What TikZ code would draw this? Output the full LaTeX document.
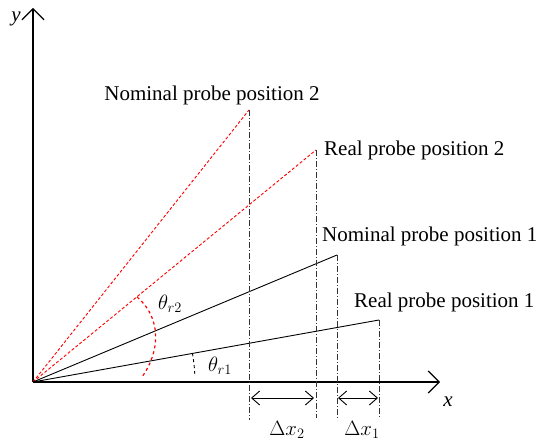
\documentclass[tikz,border=0pt]{standalone}
\usepackage{fontspec}
\setmainfont{Liberation Serif}
\usetikzlibrary{arrows.meta, positioning, calc}

\begin{document}
\begin{tikzpicture}[x=1pt, y=-1pt,
    axis/.style={line width=1.2pt, -{Straight Barb[length=11pt, width=22pt]}},
    nominal/.style={draw=red, densely dashed, line width=0.9pt},
    probe/.style={draw=black, line width=0.9pt},
    guide/.style={draw=black!80, line width=0.9pt, dash pattern=on 6pt off 2pt on 1pt off 2pt},
    gap/.style={line width=0.9pt, {Straight Barb[length=8pt, width=14pt]}-{Straight Barb[length=8pt, width=14pt]}},
    lbl/.style={inner sep=0pt, anchor=west},
    font=\fontsize{21}{25}\selectfont
]
\useasboundingbox (0,0) rectangle (539,446);

% origin and axes
\coordinate (O) at (33,382);
\coordinate (ytip) at (33,8);
\coordinate (xtip) at (440,382);
\draw[axis] (O) -- (ytip);
\draw[axis] (O) -- (xtip);
\node (ylab) at (16,19) {\textit{y}};
\node (xlab) at (448,402) {\textit{x}};

% probe ends
\coordinate (n2) at (249,110);
\coordinate (r2) at (316,150);
\coordinate (n1) at (337,255);
\coordinate (r1) at (379,320);

% probe lines
\draw[nominal] (O) -- (n2);
\draw[nominal] (O) -- (r2);
\draw[probe] (O) -- (n1);
\draw[probe] (O) -- (r1);

% vertical guides
\coordinate (n2b) at (249,420);
\coordinate (r2b) at (316,418);
\coordinate (n1b) at (337,420);
\coordinate (r1b) at (379,417);
\draw[guide] (n2) -- (n2b);
\draw[guide] (r2) -- (r2b);
\draw[guide] (n1) -- (n1b);
\draw[guide] (r1) -- (r1b);

% offsets
\coordinate (d2a) at (251,398);
\coordinate (d2b) at (314,398);
\coordinate (d1a) at (338,398);
\coordinate (d1b) at (378,398);
\draw[gap] (d2a) -- (d2b);
\draw[gap] (d1a) -- (d1b);
\node (dx2) at (287,430) {$\Delta x_2$};
\node (dx1) at (362,430) {$\Delta x_1$};

% angles
\coordinate (a2s) at (137,297);
\coordinate (a2e) at (142,377);
\draw[red, dashed, line width=1.2pt] (a2s) .. controls (162,318) and (160,352) .. (a2e);
\draw[black, dashed, line width=0.9pt] (O) ++(-10.2:162) arc[start angle=-10.2, end angle=-1.8, radius=162];
\node (tr2) at (170,304) {$\theta_{r2}$};
\node (tr1) at (220,366) {$\theta_{r1}$};

% labels
\node (ln2) at (212,95) {Nominal probe position 2};
\node[lbl] (lr2) at (324,150) {Real probe position 2};
\node[lbl] (ln1) at (322,236) {Nominal probe position 1};
\node[lbl] (lr1) at (354,302) {Real probe position 1};

\end{tikzpicture}
\end{document}
